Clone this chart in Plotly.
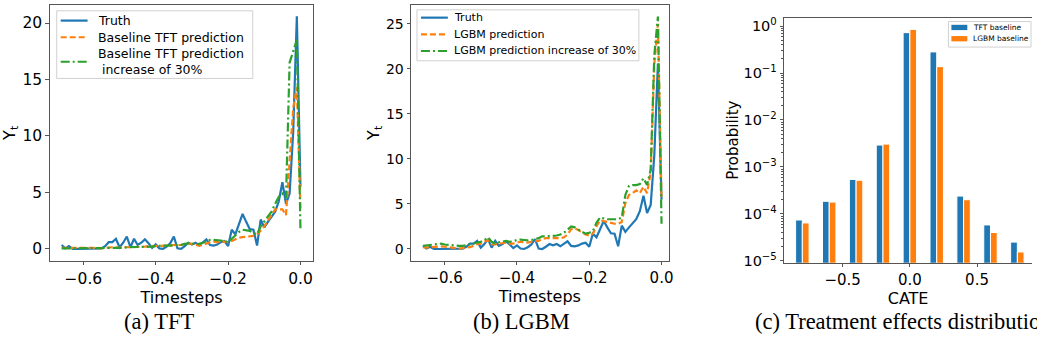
import plotly.graph_objects as go

# ---------------- data ----------------
timesteps = [-0.66, -0.65, -0.64, -0.63, -0.62, -0.61, -0.60, -0.59, -0.58, -0.57,
             -0.56, -0.55, -0.54, -0.53, -0.52, -0.51, -0.50, -0.49, -0.48, -0.47,
             -0.46, -0.45, -0.44, -0.43, -0.42, -0.41, -0.40, -0.39, -0.38, -0.37,
             -0.36, -0.35, -0.34, -0.33, -0.32, -0.31, -0.30, -0.29, -0.28, -0.27,
             -0.26, -0.25, -0.24, -0.23, -0.22, -0.21, -0.20, -0.19, -0.18, -0.17,
             -0.16, -0.15, -0.14, -0.13, -0.12, -0.11, -0.10, -0.09, -0.08, -0.07,
             -0.06, -0.05, -0.04, -0.03, -0.02, -0.01, 0.00]

truth = [0.35, 0.05, 0.25, 0.0, 0.0, 0.0, 0.0, 0.0, 0.0, 0.0,
         0.0, 0.05, 0.25, 0.6, 0.6, 0.9, 0.15, 0.55, 1.1, 0.15,
         0.9, 0.35, 0.55, 0.85, 0.5, 0.1, 0.4, 0.05, 0.0, 0.2,
         0.5, 1.1, 0.05, 0.0, 0.25, 0.55, 0.4, 0.55, 0.3, 0.55,
         0.85, 0.35, 0.3, 0.4, 0.6, 0.7, 0.25, 1.7, 1.3, 2.2,
         3.1, 2.4, 1.75, 1.7, 0.3, 2.6, 1.9, 2.4, 2.8, 3.3,
         4.2, 5.9, 4.0, 4.9, 10.4, 20.6, 5.5]

tft_pred = [0.1, 0.1, 0.15, 0.15, 0.15, 0.15, 0.15, 0.1, 0.1, 0.15,
            0.1, 0.05, 0.1, 0.15, 0.15, 0.15, 0.1, 0.15, 0.15, 0.15,
            0.2, 0.2, 0.2, 0.2, 0.25, 0.25, 0.3, 0.3, 0.3, 0.3,
            0.3, 0.35, 0.35, 0.35, 0.45, 0.5, 0.45, 0.4, 0.3, 0.35,
            0.5, 0.6, 0.65, 0.6, 0.65, 0.6, 0.6, 0.7, 0.85, 1.0,
            1.05, 1.1, 1.1, 1.15, 1.3, 1.6, 2.0, 2.5, 3.0, 3.5,
            3.5, 3.5, 3.0, 7.5, 12.5, 14.3, 3.6]

tft_pred_up30 = [0.05, 0.05, 0.1, 0.1, 0.1, 0.1, 0.1, 0.1, 0.1, 0.1,
                 0.1, 0.1, 0.1, 0.1, 0.1, 0.1, 0.1, 0.1, 0.15, 0.15,
                 0.15, 0.15, 0.2, 0.2, 0.2, 0.2, 0.25, 0.3, 0.3, 0.3,
                 0.3, 0.3, 0.3, 0.35, 0.45, 0.5, 0.45, 0.45, 0.45, 0.55,
                 0.65, 0.8, 0.8, 0.8, 0.75, 0.7, 0.6, 0.9, 1.2, 1.5,
                 1.7, 1.65, 1.6, 1.4, 1.3, 2.0, 2.4, 2.8, 3.3, 4.0,
                 4.6, 4.9, 4.5, 16.5, 17.5, 18.5, 1.7]

lgbm_pred = [0.2, 0.15, 0.2, 0.25, 0.3, 0.3, 0.25, 0.2, 0.15, 0.05,
             0.05, 0.1, 0.15, 0.2, 0.35, 0.55, 0.6, 0.8, 1.0, 0.5,
             0.5, 0.6, 0.65, 0.7, 0.6, 0.6, 0.7, 0.8, 0.75, 0.7,
             0.8, 0.9, 0.9, 1.1, 1.2, 1.2, 1.15, 1.2, 1.2, 1.3,
             1.6, 2.2, 2.3, 2.1, 1.8, 1.6, 1.5, 1.7, 2.5, 3.2,
             3.1, 3.0, 2.9, 2.8, 2.8, 3.0, 5.1, 6.0, 6.2, 6.5,
             6.2, 6.9, 6.2, 8.5, 20.5, 25.0, 5.5]

lgbm_pred_up30 = [0.35, 0.4, 0.5, 0.55, 0.6, 0.6, 0.5, 0.45, 0.4, 0.4,
                  0.35, 0.35, 0.45, 0.55, 0.6, 0.7, 0.8, 1.0, 1.3, 0.8,
                  0.6, 0.75, 0.8, 0.9, 0.8, 0.85, 1.0, 1.05, 1.0, 0.95,
                  1.0, 1.1, 1.2, 1.4, 1.4, 1.45, 1.45, 1.5, 1.6, 1.8,
                  2.2, 2.5, 2.4, 2.1, 1.9, 1.7, 1.8, 2.0, 2.9, 3.5,
                  3.4, 3.3, 3.3, 3.3, 3.3, 3.5, 6.0, 7.0, 7.1, 7.1,
                  7.2, 7.85, 7.1, 8.8, 21.5, 25.8, 2.8]

cate_bins = [-0.8, -0.6, -0.4, -0.2, 0.0, 0.2, 0.4, 0.6, 0.8]
tft_prob = [7.4e-5, 1.85e-4, 5.4e-4, 2.92e-3, 0.726, 0.282, 2.39e-4, 5.8e-5, 2.5e-5]
lgbm_prob = [6.4e-5, 1.78e-4, 5.2e-4, 3.06e-3, 0.851, 0.137, 2.0e-4, 4.0e-5, 1.54e-5]

log_tick_vals = [1e-5, 1e-4, 1e-3, 1e-2, 1e-1, 1e0]
log_tick_text = ["10<sup>−5</sup>", "10<sup>−4</sup>", "10<sup>−3</sup>",
                 "10<sup>−2</sup>", "10<sup>−1</sup>", "10<sup>0</sup>"]

legend_a_names = ["Truth", "Baseline TFT prediction", "Baseline TFT prediction<br> increase of 30%"]
legend_b_names = ["Truth", "LGBM prediction", "LGBM prediction increase of 30%"]
legend_c_names = ["TFT baseline", "LGBM baseline"]

captions = ["(a) TFT", "(b) LGBM", "(c) Treatment effects distribution"]

# ---------------- style ----------------
BLUE, ORANGE, GREEN = "#1f77b4", "#ff7f0e", "#2ca02c"
FONT = "DejaVu Sans, sans-serif"
W, H = 1037, 350
LW = 2.2
DASHES = ["solid", "6px,3px", "9px,3px,2px,3px"]
COLORS = [BLUE, ORANGE, GREEN]


def px(x):
    return x / W


def py(y):
    return 1 - y / H


fig = go.Figure()

# Panel (a)
for ys, name, col, dash in zip([truth, tft_pred, tft_pred_up30], legend_a_names, COLORS, DASHES):
    fig.add_trace(go.Scatter(x=timesteps, y=ys, mode="lines", name=name, showlegend=False,
                             line=dict(color=col, width=LW, dash=dash), xaxis="x", yaxis="y"))

# Panel (b)
for ys, name, col, dash in zip([truth, lgbm_pred, lgbm_pred_up30], legend_b_names, COLORS, DASHES):
    fig.add_trace(go.Scatter(x=timesteps, y=ys, mode="lines", name=name, showlegend=False,
                             line=dict(color=col, width=LW, dash=dash), xaxis="x2", yaxis="y2"))

# Panel (c)
fig.add_trace(go.Bar(x=cate_bins, y=tft_prob, name=legend_c_names[0], width=0.05, offset=-0.05,
                     marker=dict(color=BLUE, line=dict(color="white", width=1)),
                     xaxis="x3", yaxis="y3", showlegend=False))
fig.add_trace(go.Bar(x=cate_bins, y=lgbm_prob, name=legend_c_names[1], width=0.05, offset=0.0,
                     marker=dict(color=ORANGE, line=dict(color="white", width=1)),
                     xaxis="x3", yaxis="y3", showlegend=False))


def axis_common(size):
    return dict(showgrid=False, zeroline=False, showline=True, linecolor="#555", linewidth=1,
                ticks="outside", ticklen=3.5, tickwidth=1, tickcolor="#555", ticklabelstandoff=0,
                tickfont=dict(family=FONT, size=size, color="black"))


title_font = dict(family=FONT, size=16, color="black")

fig.update_layout(
    width=W, height=H, margin=dict(l=0, r=0, t=0, b=0),
    paper_bgcolor="white", plot_bgcolor="white", barmode="overlay", showlegend=False,
    xaxis=dict(domain=[50 / W, 315 / W], anchor="y", range=[-0.693, 0.036], mirror=True,
               tickvals=[-0.6, -0.4, -0.2, 0.0], tickformat=".1f",
               title=dict(text="Timesteps", font=title_font, standoff=0), **axis_common(15.5)),
    yaxis=dict(domain=[85 / H, 346 / H], anchor="x", range=[-1.04, 21.6], mirror=True,
               tickvals=[0, 5, 10, 15, 20],
               title=dict(text="Y<sub>t</sub>", font=title_font, standoff=3), **axis_common(15.5)),
    xaxis2=dict(domain=[413 / W, 672 / W], anchor="y2", range=[-0.693, 0.02], mirror=True,
                tickvals=[-0.6, -0.4, -0.2, 0.0], tickformat=".1f",
                title=dict(text="Timesteps", font=title_font, standoff=0), **axis_common(15)),
    yaxis2=dict(domain=[85 / H, 346 / H], anchor="x2", range=[-1.3, 27.1], mirror=True,
                tickvals=[0, 5, 10, 15, 20, 25],
                title=dict(text="Y<sub>t</sub>", font=title_font, standoff=2), **axis_common(14)),
    xaxis3=dict(domain=[788 / W, 1.0], anchor="y3", range=[-0.935, 0.909], mirror=True,
                tickvals=[-0.5, 0.0, 0.5], tickformat=".1f",
                title=dict(text="CATE", font=title_font, standoff=0), **axis_common(15)),
    yaxis3=dict(domain=[83 / H, 333 / H], anchor="x3", type="log", range=[-5.04, 0.18],
                tickvals=log_tick_vals, ticktext=log_tick_text,
                minor=dict(ticks="outside", ticklen=2, tickcolor="#555",
                           tickvals=[m * 10 ** e for e in range(-5, 1) for m in range(2, 10)]),
                title=dict(text="Probability", font=dict(family=FONT, size=15, color="black"),
                           standoff=1), **axis_common(14.5)),
)

shapes = []
annotations = []


def legend_box(x0, y0, x1, y1):
    shapes.append(dict(type="rect", xref="paper", yref="paper", x0=px(x0), x1=px(x1),
                       y0=py(y0), y1=py(y1), fillcolor="rgba(255,255,255,0.85)",
                       line=dict(color="#d0d0d0", width=1), layer="above"))


def legend_text(x, y, text, size):
    annotations.append(dict(text=text, x=px(x), y=py(y), xref="paper", yref="paper",
                            xanchor="left", yanchor="middle", showarrow=False, align="left",
                            font=dict(family=FONT, size=size, color="black")))


# legend (a)
legend_box(57, 10, 254, 79)
for name, col, dash, yl in zip(legend_a_names, COLORS, DASHES, [20, 37, 62]):
    shapes.append(dict(type="line", xref="paper", yref="paper", x0=px(61), x1=px(88),
                       y0=py(yl), y1=py(yl), line=dict(color=col, width=LW, dash=dash), layer="above"))
    legend_text(96, yl, name, 12.5)

# legend (b)
legend_box(419, 9, 642, 61)
for name, col, dash, yl in zip(legend_b_names, COLORS, DASHES, [17, 34, 51]):
    shapes.append(dict(type="line", xref="paper", yref="paper", x0=px(423), x1=px(450),
                       y0=py(yl), y1=py(yl), line=dict(color=col, width=LW, dash=dash), layer="above"))
    legend_text(454, yl, name, 11)

# legend (c)
legend_box(953, 21, 1036, 47)
for name, col, yl in zip(legend_c_names, [BLUE, ORANGE], [27, 38.5]):
    shapes.append(dict(type="rect", xref="paper", yref="paper", x0=px(956), x1=px(972),
                       y0=py(yl + 2.7), y1=py(yl - 2.7), fillcolor=col, line=dict(width=0),
                       layer="above"))
    legend_text(976, yl, name, 7.5)

cap_x = [160, 524, 757]
cap_anchor = ["center", "center", "left"]
for txt, cx, anc in zip(captions, cap_x, cap_anchor):
    annotations.append(dict(text=txt, x=px(cx), y=py(327), xref="paper", yref="paper",
                            xanchor=anc, yanchor="middle", showarrow=False,
                            font=dict(family="Liberation Serif, Times New Roman, serif",
                                      size=22.5, color="black")))

fig.update_layout(shapes=shapes, annotations=annotations)

fig.write_html("out.html")
